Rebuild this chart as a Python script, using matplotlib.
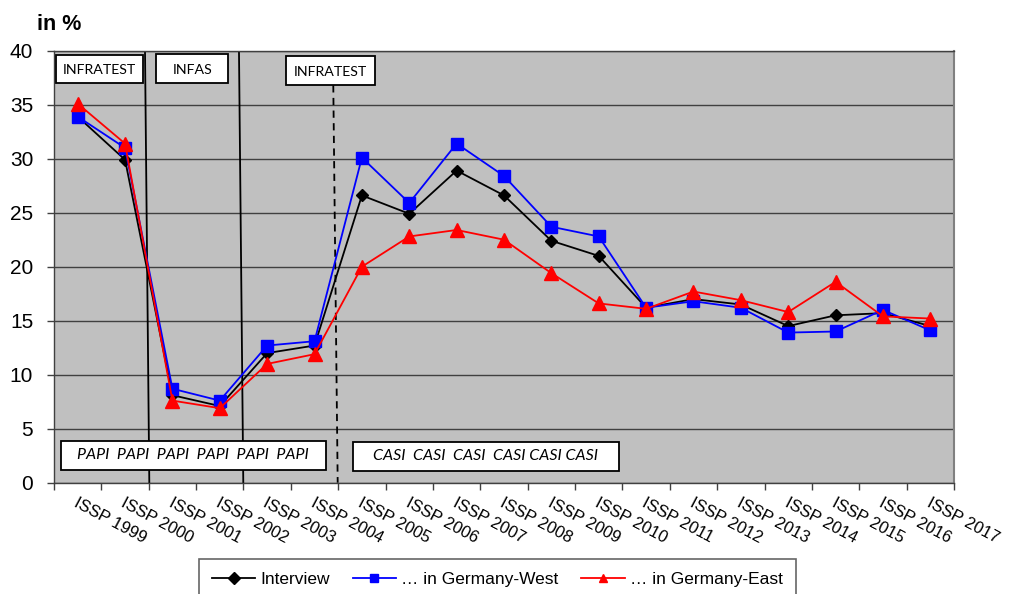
import matplotlib
matplotlib.use("Agg")
import matplotlib.pyplot as plt
from matplotlib.patches import Rectangle

plt.rcParams['font.family'] = ['Liberation Sans', 'DejaVu Sans']

years = [str(y) for y in range(1999, 2018)]
x_labels = ["ISSP " + y for y in years]

interview = [33.9, 29.9, 8.1, 7.1, 12.0, 12.7, 26.6, 24.9, 28.9, 26.6, 22.4, 21.0,
             16.2, 17.0, 16.5, 14.5, 15.5, 15.7, 14.5]
west = [33.9, 31.0, 8.7, 7.6, 12.7, 13.1, 30.1, 25.9, 31.4, 28.4, 23.7, 22.8,
        16.2, 16.8, 16.2, 13.9, 14.0, 16.0, 14.1]
east = [35.1, 31.4, 7.6, 6.9, 11.0, 11.9, 20.0, 22.8, 23.4, 22.5, 19.4, 16.6,
        16.1, 17.7, 16.9, 15.8, 18.6, 15.4, 15.2]

institutes = ["INFRATEST", "INFAS", "INFRATEST"]
modes = ["PAPI  PAPI  PAPI  PAPI  PAPI  PAPI", "CASI  CASI  CASI  CASI CASI CASI"]
series_names = ["Interview", "… in Germany-West", "… in Germany-East"]

W, H = 1011, 594
fig = plt.figure(figsize=(W / 100, H / 100), dpi=100)
ax = fig.add_axes([54 / W, 1 - 482.7 / H, 900 / W, 432 / H])
ax.set_facecolor('#C0C0C0')

n = len(years)
xs = list(range(n))
ax.set_xlim(-0.5, n - 0.5)
ax.set_ylim(0, 40)

# grid
ax.set_yticks(range(0, 41, 5))
ax.yaxis.grid(True, color='#404040', linewidth=1.0)
ax.set_axisbelow(True)
ax.tick_params(axis='y', labelsize=15, length=5, width=1.0, color='#404040', pad=10)
ax.set_xticks([i - 0.5 for i in range(n + 1)])
ax.set_xticklabels([])
ax.tick_params(axis='x', length=5, width=1.0, color='#404040')
for s in ['left', 'bottom', 'right', 'top']:
    ax.spines[s].set_color('#404040')
    ax.spines[s].set_linewidth(1.0)
ax.spines['right'].set_color('#808080')
ax.spines['right'].set_linewidth(1.5)

for i, lab in enumerate(x_labels):
    ax.text(i + 0.02, -0.03, lab, transform=ax.get_xaxis_transform(), rotation=-28,
            rotation_mode='anchor', ha='left', va='top', fontsize=12)

# vertical separator lines
ax.plot([1.421, 1.512], [40, 0], color='black', lw=1.3, zorder=2)
ax.plot([3.405, 3.496], [40, 0], color='black', lw=1.3, zorder=2)
ax.plot([5.396, 5.489], [36.8, 0], color='black', lw=1.3, ls=(0, (4, 3)), zorder=2)

# series
l1, = ax.plot(xs, interview, color='black', lw=1.3, marker='D', markersize=6.5, zorder=5)
l2, = ax.plot(xs, west, color='#0000FF', lw=1.3, marker='s', markersize=9, zorder=6)
l3, = ax.plot(xs, east, color='#FF0000', lw=1.3, marker='^', markersize=9.5, zorder=7)

# annotation boxes
box_font = ['Lato', 'DejaVu Sans']
top_boxes = [(-0.458, 36.98, 1.843, 2.62), (1.653, 36.98, 1.527, 2.69), (4.398, 36.80, 1.879, 2.71)]
for (x0, y0, w, h), txt in zip(top_boxes, institutes):
    ax.add_patch(Rectangle((x0, y0), w, h, facecolor='white', edgecolor='black', lw=1.3, zorder=8))
    ax.text(x0 + w / 2, y0 + h / 2 - 0.1, txt, ha='center', va='center', fontsize=10.2,
            family=box_font, zorder=9)
bottom_boxes = [(-0.359, 1.18, 5.595, 2.71), (5.806, 1.11, 5.614, 2.69)]
for (x0, y0, w, h), txt in zip(bottom_boxes, modes):
    ax.add_patch(Rectangle((x0, y0), w, h, facecolor='white', edgecolor='black', lw=1.3, zorder=8))
    ax.text(x0 + w / 2, y0 + h / 2, txt, ha='center', va='center', fontsize=11.5,
            style='italic', family=box_font, zorder=9)

fig.text(37 / W, 1 - 24 / H, "in %", fontsize=15.5, fontweight='bold', ha='left', va='center')

leg = fig.legend([l1, l2, l3], series_names, loc='upper left', bbox_to_anchor=(199 / W, 1 - 559 / H),
                 ncol=3, fontsize=12.5, frameon=True, fancybox=False, handlelength=2.5,
                 columnspacing=1.3, handletextpad=0.3, borderpad=0.75, borderaxespad=0)
leg.get_frame().set_edgecolor('#404040')
leg.get_frame().set_linewidth(1.2)
for h in leg.legend_handles:
    h.set_markersize(6)

fig.savefig('out.png', dpi=100)
